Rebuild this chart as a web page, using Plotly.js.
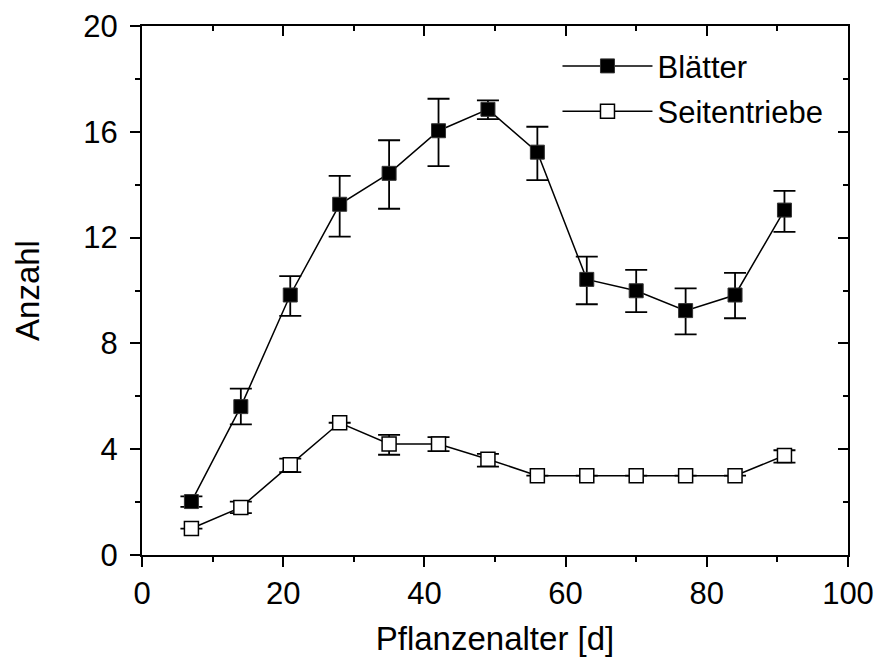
<!DOCTYPE html>
<html>
<head>
<meta charset="utf-8">
<script src="https://cdn.plot.ly/plotly-3.0.1.min.js"></script>
<style>html,body{margin:0;padding:0;background:#fff}#chart{width:878px;height:657px}</style>
</head>
<body>
<div id="chart"></div>
<script>
const days = [7, 14, 21, 28, 35, 42, 49, 56, 63, 70, 77, 84, 91];
const blaetter = [2.02, 5.61, 9.83, 13.26, 14.43, 16.04, 16.85, 15.23, 10.42, 9.99, 9.24, 9.83, 13.04];
const blaetterErrPlus = [0.2, 0.68, 0.71, 1.07, 1.25, 1.21, 0.34, 0.96, 0.86, 0.79, 0.84, 0.84, 0.73];
const blaetterErrMinus = [0.2, 0.67, 0.79, 1.22, 1.34, 1.34, 0.37, 1.06, 0.94, 0.81, 0.90, 0.88, 0.82];
const seiten = [1.0, 1.8, 3.41, 5.0, 4.2, 4.2, 3.62, 3.0, 3.0, 3.0, 3.0, 3.0, 3.76];
const seitenErrPlus = [0, 0.22, 0.23, 0, 0.34, 0.26, 0.2, 0, 0, 0, 0, 0, 0.2];
const seitenErrMinus = [0, 0.22, 0.28, 0, 0.41, 0.27, 0.28, 0, 0, 0, 0, 0, 0.27];
const xTitle = "Pflanzenalter [d]";
const yTitle = "Anzahl";

const font = "Liberation Sans, Arial, sans-serif";

const traces = [
  {
    x: days, y: blaetter, name: "Blätter", type: "scatter", mode: "lines+markers",
    legendgroup: "a",
    line: {color: "#000", width: 1.5},
    marker: {symbol: "square", size: 14, color: "#000", line: {color: "#333", width: 1}},
    error_y: {type: "data", array: blaetterErrPlus, arrayminus: blaetterErrMinus, symmetric: false,
              color: "#000", thickness: 1.8, width: 11}
  },
  {
    x: days, y: seiten, name: "Seitentriebe", type: "scatter", mode: "lines+markers",
    legendgroup: "b",
    line: {color: "#000", width: 1.5},
    marker: {symbol: "square", size: 14, color: "#fff", line: {color: "#000", width: 1.5}},
    error_y: {type: "data", array: seitenErrPlus, arrayminus: seitenErrMinus, symmetric: false,
              color: "#000", thickness: 1.8, width: 11}
  },
  {
    x: [0], y: [0], xaxis: "x2", yaxis: "y2", type: "scatter", mode: "markers",
    marker: {opacity: 0}, showlegend: false, hoverinfo: "skip"
  }
];

const layout = {
  width: 878, height: 657,
  margin: {l: 142, r: 30, t: 26, b: 102},
  paper_bgcolor: "#fff", plot_bgcolor: "#fff",
  font: {family: font, color: "#000", size: 31},
  showlegend: true,
  legend: {
    x: 0.5885, y: 0.975, xanchor: "left", yanchor: "top",
    bgcolor: "rgba(0,0,0,0)", font: {size: 31, family: font},
    itemwidth: 90, tracegroupgap: 2
  },
  xaxis: {
    range: [0, 100], dtick: 20, tick0: 0,
    showgrid: false, zeroline: false,
    showline: true, linecolor: "#000", linewidth: 2,
    ticks: "outside", ticklen: 10, tickwidth: 2, tickcolor: "#000",
    minor: {ticks: "outside", ticklen: 5, tickwidth: 2, tickcolor: "#000", dtick: 10, tick0: 0},
    tickfont: {size: 31, family: font},
    title: {text: xTitle, font: {size: 33, family: font}, standoff: 17}
  },
  yaxis: {
    range: [0, 20], dtick: 4, tick0: 0,
    showgrid: false, zeroline: false,
    showline: true, linecolor: "#000", linewidth: 2,
    ticks: "outside", ticklen: 10, tickwidth: 2, tickcolor: "#000",
    minor: {ticks: "outside", ticklen: 5, tickwidth: 2, tickcolor: "#000", dtick: 2, tick0: 0},
    tickfont: {size: 31, family: font},
    ticklabelstandoff: 6,
    title: {text: yTitle, font: {size: 33, family: font}, standoff: 34}
  },
  xaxis2: {
    overlaying: "x", side: "top", anchor: "y", range: [0, 100], dtick: 20, tick0: 0,
    showgrid: false, zeroline: false, showticklabels: false,
    showline: true, linecolor: "#000", linewidth: 2,
    ticks: "inside", ticklen: 10, tickwidth: 2, tickcolor: "#000",
    minor: {ticks: "inside", ticklen: 5, tickwidth: 2, tickcolor: "#000", dtick: 10, tick0: 0}
  },
  yaxis2: {
    overlaying: "y", side: "right", anchor: "x", range: [0, 20], dtick: 4, tick0: 0,
    showgrid: false, zeroline: false, showticklabels: false,
    showline: true, linecolor: "#000", linewidth: 2,
    ticks: "inside", ticklen: 10, tickwidth: 2, tickcolor: "#000",
    minor: {ticks: "inside", ticklen: 5, tickwidth: 2, tickcolor: "#000", dtick: 2, tick0: 0}
  }
};

Plotly.newPlot("chart", traces, layout, {staticPlot: true, displayModeBar: false});
</script>
</body>
</html>
